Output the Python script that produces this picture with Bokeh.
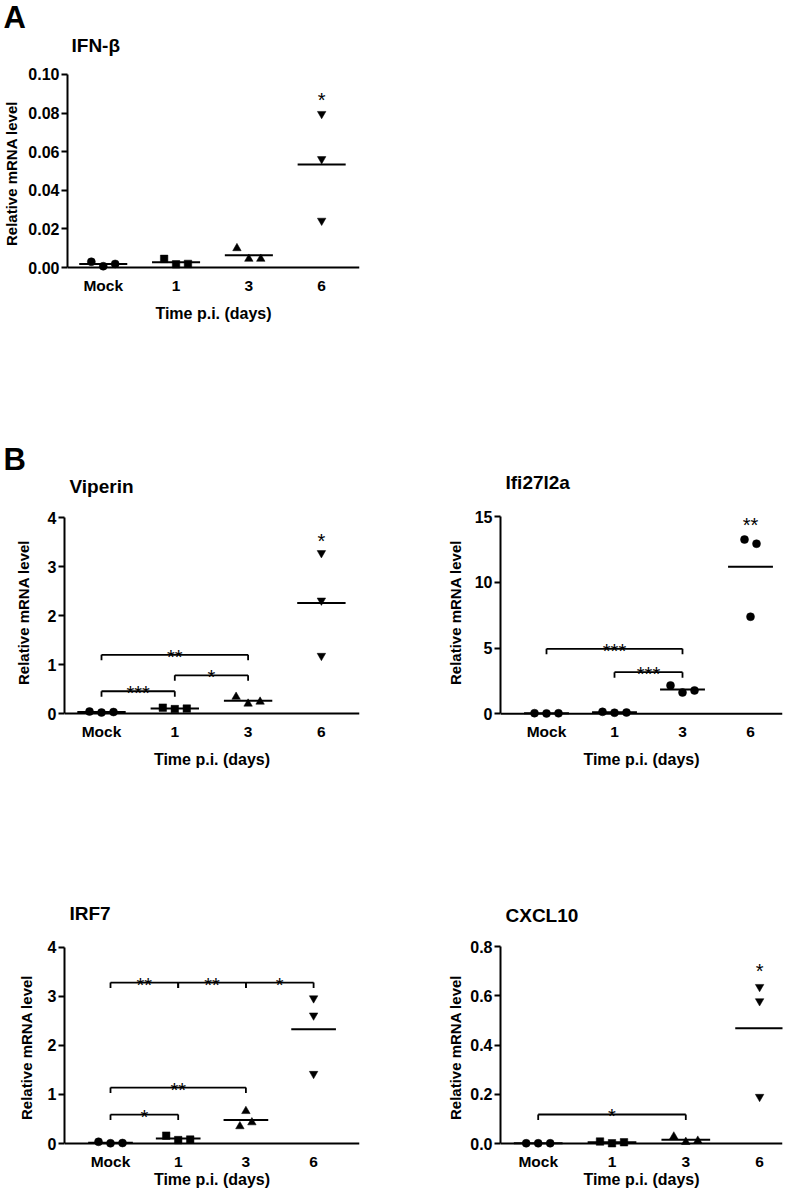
import numpy as np
from bokeh.plotting import figure
from bokeh.models import Range1d, FixedTicker, PrintfTickFormatter, Title
from bokeh.layouts import column, row
from bokeh.embed import file_html
from bokeh.resources import INLINE
from bokeh.core.properties import value

FONT = "Liberation Sans"

categories = ["Mock", "1", "3", "6"]
x_title = "Time p.i. (days)"
y_title = "Relative mRNA level"

# ---- IFN-beta ----
ifnb_mock = [0.0030, 0.0007, 0.0019]
ifnb_d1 = [0.0045, 0.0017, 0.0019]
ifnb_d3 = [0.0100, 0.0045, 0.0045]
ifnb_d6 = [0.0796, 0.0562, 0.0243]
ifnb_ticks = [0.0, 0.02, 0.04, 0.06, 0.08, 0.10]
ifnb_brackets = []
ifnb_stars = [(3, 0.093, "*")]

# ---- Viperin ----
viperin_mock = [0.04, 0.02, 0.03]
viperin_d1 = [0.12, 0.09, 0.10]
viperin_d3 = [0.34, 0.20, 0.24]
viperin_d6 = [3.28, 2.31, 1.18]
viperin_ticks = [0, 1, 2, 3, 4]
viperin_brackets = [(0, 1, 0.455, "***"), (1, 2, 0.78, "*"), (0, 2, 1.20, "**")]
viperin_stars = [(3, 3.77, "*")]

# ---- Ifi27l2a ----
ifi_mock = [0.05, 0.03, 0.04]
ifi_d1 = [0.15, 0.08, 0.10]
ifi_d3 = [2.16, 1.62, 1.78]
ifi_d6 = [13.27, 12.95, 7.39]
ifi_ticks = [0, 5, 10, 15]
ifi_brackets = [(0, 2, 4.95, "***"), (1, 2, 3.17, "***")]
ifi_stars = [(3, 15.3, "**")]

# ---- IRF7 ----
irf7_mock = [0.035, 0.005, 0.010]
irf7_d1 = [0.16, 0.07, 0.08]
irf7_d3 = [0.66, 0.35, 0.43]
irf7_d6 = [2.96, 2.61, 1.42]
irf7_ticks = [0, 1, 2, 3, 4]
irf7_brackets = [(0, 1, 3.28, "**"), (1, 2, 3.28, "**"), (2, 3, 3.28, "*"),
                 (0, 1, 0.59, "*"), (0, 2, 1.14, "**")]
irf7_stars = []

# ---- CXCL10 ----
cxcl_mock = [0.001, 0.001, 0.001]
cxcl_d1 = [0.008, 0.001, 0.005]
cxcl_d3 = [0.028, 0.006, 0.011]
cxcl_d6 = [0.637, 0.579, 0.190]
cxcl_ticks = [0.0, 0.2, 0.4, 0.6, 0.8]
cxcl_brackets = [(0, 2, 0.118, "*")]
cxcl_stars = [(3, 0.751, "*")]

SHAPES = ["circle", "square", "triangle", "inverted_triangle"]
SIZES = {"circle": 8, "square": 7.5, "triangle": 8.5, "inverted_triangle": 8.5}
JIT_STD = [[-12, 0, 12], [-12, 0, 12], [-12, 0, 12], [0, 0, 0]]
STAR_SIZE = "20px"
ORG = 1          # screen offset of the layout origin in the picture
DESC, LINE = 0.212, 1.117
T_SIZE, L_SIZE, SP_SIZE = 19, 31, 2


def panel(geom, series, markers, jitter, brackets, stars, ticks, fmt,
          title, title_x, title_base, ylabel_als, xlabel_als,
          letter=None, letter_x=0, letter_base=0, xlabel_standoff=3):
    fx, fy, fw, fh = geom["box"]
    fl, fr = geom["fl"], geom["fr"]
    ftop, fbot = geom["ftop"], geom["fbot"]
    ytop, ytop_px, y0_px = geom["ytop"], geom["ytop_px"], geom["y0_px"]
    ppu = (y0_px - ytop_px) / ytop
    ymax = (y0_px - ftop) / ppu
    ymin = -(fbot - y0_px) / ppu
    mbt = int(round(ftop - fy))
    mbb = int(round(fy + fh - fbot))
    mbl = int(round(fl - fx))
    mbr = int(round(fx + fw - fr))
    c0, sp = geom["c0"], geom["sp"]
    xs = (fl - c0) / sp
    xe = (fr - c0) / sp
    p = figure(width=fw, height=fh, x_range=Range1d(xs, xe),
               y_range=Range1d(ymin, ymax),
               min_border_left=mbl, min_border_right=mbr,
               min_border_top=mbt, min_border_bottom=mbb,
               output_backend="svg", toolbar_location=None, tools="", title=None)
    p.outline_line_color = None
    p.grid.visible = False
    p.background_fill_color = "white"
    p.border_fill_color = "white"

    # x axis (labels only; the axis line is drawn at y=0)
    xa = p.xaxis[0]
    xa.ticker = FixedTicker(ticks=list(range(len(categories))))
    xa.major_label_overrides = {i: c for i, c in enumerate(categories)}
    xa.axis_line_color = None
    xa.major_tick_line_color = None
    xa.minor_tick_line_color = None
    xa.major_tick_out = 0
    xa.major_tick_in = 0
    xa.major_label_standoff = xlabel_standoff
    xa.major_label_text_font = FONT
    xa.major_label_text_font_style = "bold"
    xa.major_label_text_font_size = "15.5px"
    xa.major_label_text_color = "black"
    xa.axis_label = x_title
    xa.axis_label_text_font = FONT
    xa.axis_label_text_font_style = "bold"
    xa.axis_label_text_font_size = "16px"
    xa.axis_label_text_color = "black"
    xa.axis_label_standoff = xlabel_als

    ya = p.yaxis[0]
    ya.ticker = FixedTicker(ticks=ticks)
    ya.formatter = PrintfTickFormatter(format=fmt)
    ya.bounds = (0, ytop)
    ya.axis_line_width = 2
    ya.axis_line_color = "black"
    ya.major_tick_line_width = 2
    ya.major_tick_out = 6
    ya.major_tick_in = 0
    ya.minor_tick_line_color = None
    ya.major_label_standoff = 2
    ya.major_label_text_font = FONT
    ya.major_label_text_font_style = "bold"
    ya.major_label_text_font_size = "16px"
    ya.major_label_text_color = "black"
    ya.axis_label = y_title
    ya.axis_label_text_font = FONT
    ya.axis_label_text_font_style = "bold"
    ya.axis_label_text_font_size = "15px"
    ya.axis_label_text_color = "black"
    ya.axis_label_standoff = ylabel_als

    # x axis line at zero
    p.segment(x0=[xs], y0=[0], x1=[xe], y1=[0], line_color="black", line_width=2)

    # points and group means
    for i, vals in enumerate(series):
        m = markers[i]
        xv = [i + o / sp for o in jitter[i]]
        p.scatter(x=xv, y=vals, marker=m, size=SIZES[m], fill_color="black",
                  line_color="black", line_width=0.5)
        mu = float(np.mean(vals))
        p.segment(x0=[i - 0.33], y0=[mu], x1=[i + 0.33], y1=[mu],
                  line_color="black", line_width=2)

    # significance brackets
    leg = 5.5 / ppu
    for (a, b, yb, lab) in brackets:
        p.segment(x0=[a, a, b], y0=[yb, yb, yb], x1=[b, a, b], y1=[yb, yb - leg, yb - leg],
                  line_color="black", line_width=1.8)
        p.text(x=[(a + b) / 2], y=[yb], text=[lab], text_font=value(FONT),
               text_font_size=STAR_SIZE, text_align="center", text_baseline="alphabetic",
               text_color="black", y_offset=2)
    for (a, ys, lab) in stars:
        p.text(x=[a], y=[ys], text=[lab], text_font=value(FONT),
               text_font_size=STAR_SIZE, text_align="center", text_baseline="alphabetic",
               text_color="black", y_offset=12)

    # titles stacked above the frame: spacer, gene name, panel letter
    frame_left = fx + mbl
    gap = ftop - (title_base + DESC * T_SIZE)
    s1 = int(round(gap - 2 - LINE * SP_SIZE))
    p.add_layout(Title(text=" ", standoff=s1, text_font=FONT,
                       text_font_size=f"{SP_SIZE}px"), "above")
    p.add_layout(Title(text=title, align="left", offset=title_x - frame_left,
                       standoff=0, text_font=FONT, text_font_style="bold",
                       text_font_size=f"{T_SIZE}px", text_color="black"), "above")
    if letter is not None:
        gene_top = ftop - gap - (2 + LINE * T_SIZE)
        s3 = int(round(2 * (gene_top - (letter_base + DESC * L_SIZE)))) - 1
        p.add_layout(Title(text=letter, align="left", offset=letter_x - frame_left,
                           standoff=s3, text_font=FONT, text_font_style="bold",
                           text_font_size=f"{L_SIZE}px", text_color="black"), "above")
    return p


O = ORG
pA = panel(dict(box=(O, O, 399, 399), fl=66, fr=360, ftop=72, fbot=274,
                ytop=0.10, ytop_px=73, y0_px=268, c0=102, sp=73.3),
           [ifnb_mock, ifnb_d1, ifnb_d3, ifnb_d6], SHAPES, JIT_STD,
           ifnb_brackets, ifnb_stars, ifnb_ticks, "%.2f",
           "IFN-β", 70, 50, 5, 8, "A", 2, 26)

pV = panel(dict(box=(O, 400, 439, 430), fl=65, fr=360, ftop=506, fbot=720,
                ytop=4, ytop_px=518.3, y0_px=714, c0=102, sp=73.3),
           [viperin_mock, viperin_d1, viperin_d3, viperin_d6], SHAPES, JIT_STD,
           viperin_brackets, viperin_stars, viperin_ticks, "%d",
           "Viperin", 70, 493, 13, 8, "B", 4, 470)

pI = panel(dict(box=(440, 400, 345, 430), fl=501, fr=783, ftop=506, fbot=720,
                ytop=15, ytop_px=517.3, y0_px=714.3, c0=547, sp=68),
           [ifi_mock, ifi_d1, ifi_d3, ifi_d6], ["circle"] * 4,
           [[-12, 0, 12], [-12, 0, 12], [-12, 0, 12], [-6, 6, 0]],
           ifi_brackets, ifi_stars, ifi_ticks, "%d",
           "Ifi27l2a", 506, 488.5, 8, 8)

pR = panel(dict(box=(O, 830, 439, 362), fl=65, fr=360, ftop=946, fbot=1150,
                ytop=4, ytop_px=947.7, y0_px=1144, c0=111, sp=67.7),
           [irf7_mock, irf7_d1, irf7_d3, irf7_d6], SHAPES,
           [[-12, 0, 12], [-12, 0, 12], [0, -6, 6], [0, 0, 0]],
           irf7_brackets, irf7_stars, irf7_ticks, "%d",
           "IRF7", 70, 920, 10, -2)

pC = panel(dict(box=(440, 830, 345, 362), fl=501, fr=783, ftop=946, fbot=1150,
                ytop=0.8, ytop_px=947.3, y0_px=1144, c0=538.7, sp=73.8),
           [cxcl_mock, cxcl_d1, cxcl_d3, cxcl_d6], SHAPES, JIT_STD,
           cxcl_brackets, cxcl_stars, cxcl_ticks, "%.1f",
           "CXCL10", 506, 922, 3, -2)

layout = column(pA, row(pV, pI), row(pR, pC))

open("out.html", "w").write(file_html(layout, INLINE))
